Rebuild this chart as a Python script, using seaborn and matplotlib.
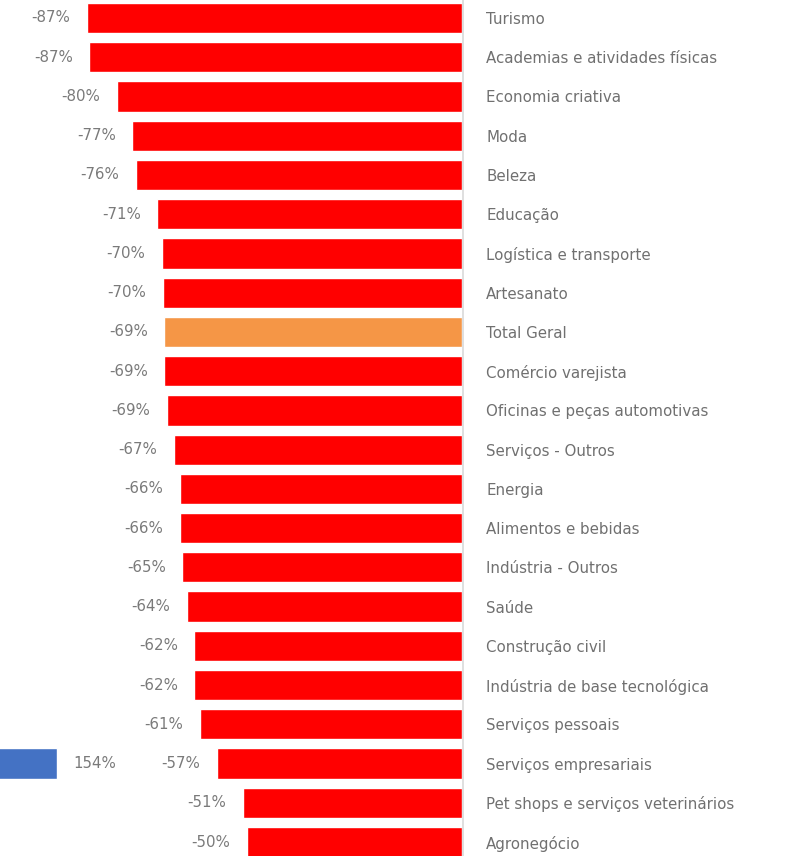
import matplotlib
matplotlib.use("Agg")
import matplotlib.pyplot as plt
import seaborn as sns
import pandas as pd

categories = [
    "Turismo", "Academias e atividades físicas", "Economia criativa", "Moda",
    "Beleza", "Educação", "Logística e transporte", "Artesanato", "Total Geral",
    "Comércio varejista", "Oficinas e peças automotivas", "Serviços - Outros",
    "Energia", "Alimentos e bebidas", "Indústria - Outros", "Saúde",
    "Construção civil", "Indústria de base tecnológica", "Serviços pessoais",
    "Serviços empresariais", "Pet shops e serviços veterinários", "Agronegócio",
]
values = [-87.2, -86.6, -80.2, -76.6, -75.8, -70.8, -69.8, -69.6, -69.2,
          -69.2, -68.6, -67.0, -65.6, -65.5, -65.0, -64.0, -62.2, -62.2,
          -61.0, -57.0, -51.0, -50.0]
highlight = "Total Geral"

blue_category = "Serviços empresariais"
blue_value = 154

sns.set_theme(style="white")
plt.rcParams["font.family"] = ["DejaVu Sans"]

RED = "#FF0000"
ORANGE = "#F59646"
BLUE = "#4472C4"
TXT = "#7a7a7a"
FS = 10.8

df = pd.DataFrame({"cat": categories, "val": values})
palette = {c: (ORANGE if c == highlight else RED) for c in categories}

fig = plt.figure(figsize=(8.12, 8.56), dpi=100)
W, H = 812, 856
zero_px = 462
row = 39.24
top_c, n = 18, len(categories)
ax_top = top_c - row / 2
ax_bot = top_c + (n - 1) * row + row / 2
ax = fig.add_axes([0, 1 - ax_bot / H, zero_px / W, (ax_bot - ax_top) / H])

sns.barplot(data=df, x="val", y="cat", hue="cat", palette=palette,
            orient="h", width=0.77, legend=False, ax=ax, saturation=1)

xmin = -107.4
ax.set_xlim(xmin, 0)
ax.set_ylim(n - 0.5, -0.5)
ax.set_xlabel("")
ax.set_ylabel("")
ax.set_xticks([])
for s in ax.spines.values():
    s.set_visible(False)
ax.yaxis.tick_right()
ax.tick_params(axis="y", length=0, pad=17.5, labelsize=FS, labelcolor="#707070")
ax.axvline(0.3, color="#d9d9d9", lw=1.2, clip_on=False)

for i, v in enumerate(values):
    ax.annotate(f"{v:.0f}%", xy=(v, i), xytext=(-12, 0), textcoords="offset points",
                ha="right", va="center", fontsize=FS, color=TXT)

# secondary series (blue) on a twin x-axis
ax2 = ax.twiny()
px_per_unit = zero_px / (0 - xmin)
blue_end_px = 57
lo = blue_value - blue_end_px / px_per_unit
ax2.set_xlim(lo, lo + (0 - xmin))
bi = categories.index(blue_category)
ax2.barh(bi, blue_value, height=0.77, color=BLUE)
ax2.annotate(f"{blue_value}%", xy=(blue_value, bi), xytext=(12, 0),
             textcoords="offset points", ha="left", va="center",
             fontsize=FS, color=TXT)
ax2.set_ylim(n - 0.5, -0.5)
ax2.set_xticks([])
for s in ax2.spines.values():
    s.set_visible(False)

fig.savefig("out.png", dpi=100)
